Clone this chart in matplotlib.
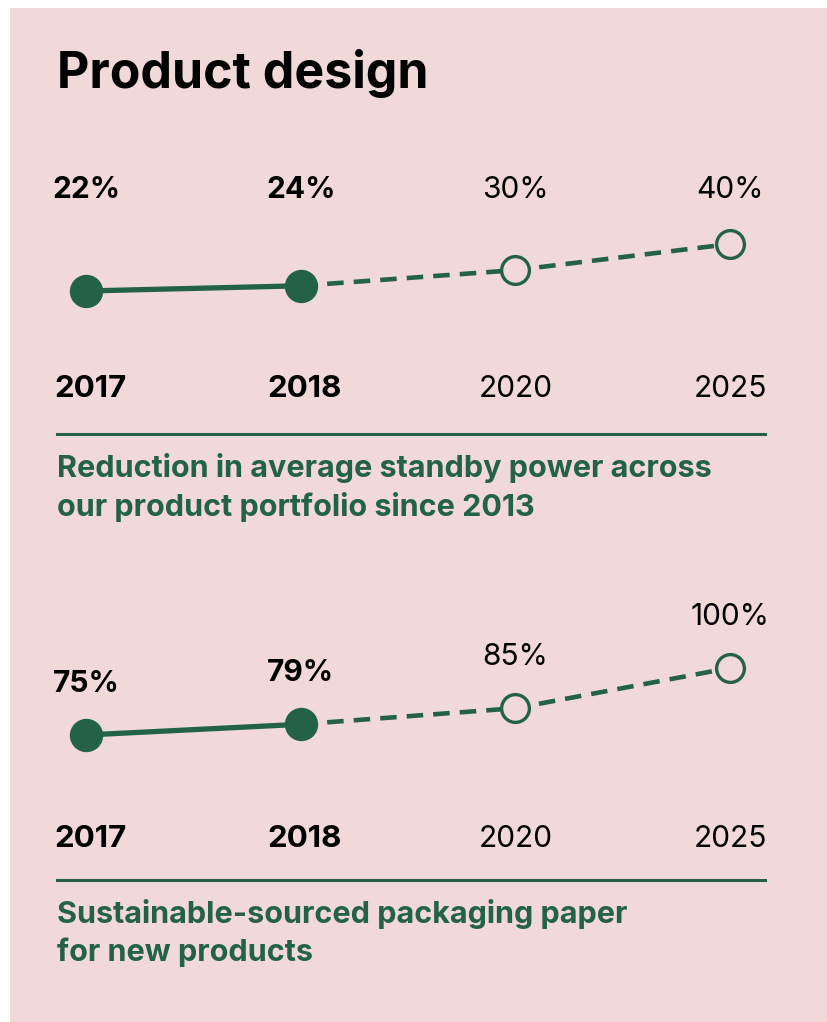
import matplotlib
matplotlib.use('Agg')
import matplotlib.pyplot as plt
from matplotlib.patches import Rectangle
from matplotlib.transforms import blended_transform_factory

years = ['2017', '2018', '2020', '2025']
actual = [True, True, False, False]
standby = [22, 24, 30, 40]
packaging = [75, 79, 85, 100]
standby_title = 'Reduction in average standby power across\nour product portfolio since 2013'
packaging_title = 'Sustainable-sourced packaging paper\nfor new products'

W, H = 827, 1022
GREEN = '#236246'
PINK = '#f0d9d8'

plt.rcParams['font.family'] = ['Inter', 'DejaVu Sans']


def fx(px):
    return px / W


def fy(py):
    return 1 - py / H


def panel(fig, values, title, scale, anchor_py, label_py, year_py, rule_py, title_py):
    # axes laid so that values[0] sits at anchor_py and each unit is `scale` px
    lo, hi = min(values) - 5, max(values) + 5
    bottom = anchor_py + (values[0] - lo) * scale
    top = anchor_py - (hi - values[0]) * scale
    ax = fig.add_axes([fx(86), fy(bottom), fx(730 - 86), (bottom - top) / H])
    ax.set_xlim(0, len(values) - 1)
    ax.set_ylim(lo, hi)
    ax.axis('off')
    ax.patch.set_alpha(0)

    x = list(range(len(values)))
    n = sum(actual)
    ax.plot(x[:n], values[:n], color=GREEN, lw=3.8, solid_capstyle='butt', clip_on=False, zorder=2)
    ax.plot(x[n - 1:], values[n - 1:], color=GREEN, lw=3.3, dashes=(3.6, 2.2), clip_on=False, zorder=2)
    ax.plot(x[:n], values[:n], 'o', ms=23, color=GREEN, clip_on=False, zorder=3)
    ax.plot(x[n:], values[n:], 'o', ms=20, mfc=PINK, mec=GREEN, mew=2.4, clip_on=False, zorder=3)

    tr = blended_transform_factory(ax.transData, fig.transFigure)
    for i, (yr, v) in enumerate(zip(years, values)):
        weight = 'bold' if actual[i] else 'normal'
        size = 22.5 if actual[i] else 21.5
        if label_py is None:
            ax.annotate(f'{v}%', (i, v), xytext=(0, 51), textcoords='offset pixels',
                        ha='center', va='center', fontsize=21.5, fontweight=weight, annotation_clip=False)
        else:
            ax.text(i, fy(label_py), f'{v}%', transform=tr, ha='center', va='center',
                    fontsize=21.5, fontweight=weight)
        ax.text(i + (0.02 if i < 2 else 0), fy(year_py), yr, transform=tr, ha='center', va='center',
                fontsize=size, fontweight=weight)

    fig.add_artist(plt.Line2D([fx(57), fx(765)], [fy(rule_py), fy(rule_py)], color=GREEN, lw=2.2))
    fig.text(fx(57), fy(title_py), title, color=GREEN, fontsize=22, fontweight='bold',
             ha='left', va='top', linespacing=1.36)


fig = plt.figure(figsize=(W / 100, H / 100), dpi=100)
fig.patch.set_facecolor('white')
fig.add_artist(Rectangle((fx(10), 0), 1 - fx(10), fy(8), transform=fig.transFigure,
                         facecolor=PINK, edgecolor='none', zorder=0))

fig.text(fx(57), fy(88), 'Product design', fontsize=36, fontweight='bold', ha='left', va='baseline')

panel(fig, standby, standby_title, 2.61, 291, 190, 389, 434, 453)
panel(fig, packaging, packaging_title, 2.68, 735, None, 839, 880, 899)

fig.savefig('out.png', dpi=100)
